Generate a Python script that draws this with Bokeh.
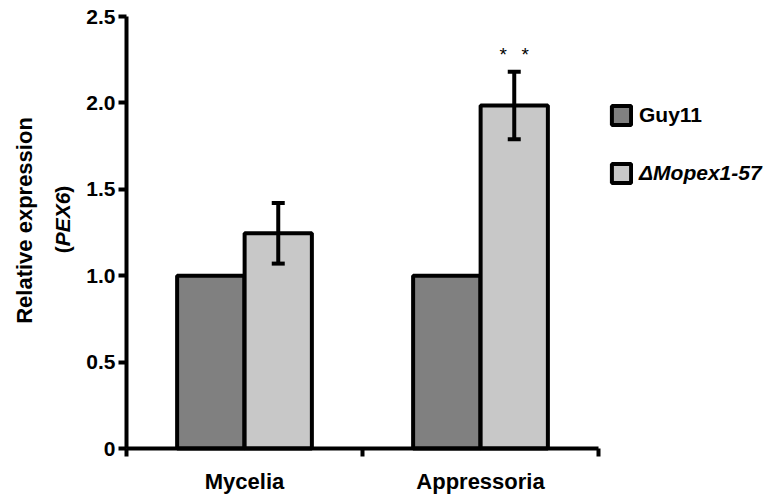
import math
from bokeh.plotting import figure
from bokeh.models import (Range1d, FixedTicker, Label, Legend, LegendItem,
                          Whisker, TeeHead, ColumnDataSource, LinearAxis)
from bokeh.embed import file_html
from bokeh.resources import INLINE

# ---- data ----
categories = ["Mycelia", "Appressoria"]
series_names = ["Guy11", "\u0394Mopex1-57"]
guy11_values = [1.0, 1.0]
mopex_values = [1.245, 1.985]
mopex_errors = [0.175, 0.195]
significance = ["", "**"]
y_ticks = [0, 0.5, 1.0, 1.5, 2.0, 2.5]
y_tick_labels = ["0", "0.5", "1.0", "1.5", "2.0", "2.5"]

FONT = "Liberation Sans"
W, H = 773, 497
X0_PX, Y0_PX = 126, 448          # pixel position of data origin
PX_X, PX_Y = 236.0, 172.8         # pixels per data unit

x_rng = Range1d(-X0_PX / PX_X, (W - X0_PX) / PX_X)
y_rng = Range1d(-(H - Y0_PX) / PX_Y, Y0_PX / PX_Y)

p = figure(width=W, height=H, output_backend="svg", toolbar_location=None,
           x_range=x_rng, y_range=y_rng, x_axis_type=None, y_axis_type=None,
           min_border=0, min_border_left=0, min_border_right=0,
           min_border_top=0, min_border_bottom=0)
p.outline_line_color = None
p.background_fill_color = "white"

def xd(px):
    return (px - X0_PX) / PX_X

def yd(py):
    return (Y0_PX - py) / PX_Y

n = len(categories)
bar_w = 0.285
off = 0.143
x_guy = [i + 0.5 - off for i in range(n)]
x_mop = [i + 0.5 + off for i in range(n)]

src_g = ColumnDataSource(dict(x=x_guy, top=guy11_values))
src_m = ColumnDataSource(dict(x=x_mop, top=mopex_values,
                              upper=[v + e for v, e in zip(mopex_values, mopex_errors)],
                              lower=[v - e for v, e in zip(mopex_values, mopex_errors)]))

r_g = p.vbar(x="x", top="top", bottom=0, width=bar_w, source=src_g,
             fill_color="#808080", line_color="black", line_width=4)
r_m = p.vbar(x="x", top="top", bottom=0, width=bar_w, source=src_m,
             fill_color="#c8c8c8", line_color="black", line_width=4)

wh = Whisker(base="x", upper="upper", lower="lower", source=src_m,
             line_width=4, line_color="black", level="overlay",
             upper_head=TeeHead(size=13, line_width=4, line_color="black"),
             lower_head=TeeHead(size=13, line_width=4, line_color="black"))
p.add_layout(wh)

# significance marks
for i, s in enumerate(significance):
    k = len(s)
    for j, ch in enumerate(s):
        dx = (j - (k - 1) / 2) * 22 / PX_X
        p.add_layout(Label(x=x_mop[i] + dx, y=mopex_values[i] + mopex_errors[i] + 0.10,
                           text=ch, text_align="center", text_baseline="middle",
                           text_font=FONT, text_font_size="19px", text_color="black"))

# y axis
ya = LinearAxis(fixed_location=0, bounds=(0, 2.5))
ya.ticker = FixedTicker(ticks=y_ticks, minor_ticks=[])
ya.major_label_overrides = {t: l for t, l in zip(y_ticks, y_tick_labels)}
ya.axis_line_width = 4
ya.major_tick_line_width = 4
ya.major_tick_out = 8
ya.major_tick_in = 0
ya.minor_tick_line_color = None
ya.major_label_standoff = 3
ya.major_label_text_font = FONT
ya.major_label_text_font_style = "bold"
ya.major_label_text_font_size = "21px"
ya.major_label_text_color = "black"
p.add_layout(ya, "left")

# x axis
xa = LinearAxis(fixed_location=0, bounds=(0, n))
xa.ticker = FixedTicker(ticks=list(range(n + 1)), minor_ticks=[])
xa.major_label_overrides = {i: "" for i in range(n + 1)}
xa.axis_line_width = 4
xa.major_tick_line_width = 4
xa.major_tick_out = 8
xa.major_tick_in = 0
xa.minor_tick_line_color = None
p.add_layout(xa, "below")

for i, c in enumerate(categories):
    p.add_layout(Label(x=i + 0.5, y=yd(480.5), text=c, text_align="center",
                       text_baseline="alphabetic", text_font=FONT, text_font_style="bold",
                       text_font_size="22px", text_color="black"))

# y axis title
p.add_layout(Label(x=xd(24), y=yd(220), text="Relative expression",
                   angle=math.pi / 2, text_align="center", text_baseline="alphabetic",
                   text_font=FONT, text_font_style="bold", text_font_size="22px",
                   text_color="black"))
fs = 21
w_par = 0.333 * fs
w_pex = 2.557 * fs
start = 219 + (2 * w_par + w_pex) / 2
bx = xd(62)
for txt, pos, style in [("(", start, "bold"), ("PEX6", start - w_par, "bold italic"),
                        (")", start - w_par - w_pex, "bold")]:
    p.add_layout(Label(x=bx, y=yd(pos), text=txt, angle=math.pi / 2,
                       text_align="left", text_baseline="alphabetic", text_font=FONT,
                       text_font_style=style, text_font_size="21px", text_color="black"))

# legends
def make_legend(label, rend, loc, style):
    lg = Legend(items=[LegendItem(label=label, renderers=[rend])], location=loc,
                glyph_width=24, glyph_height=24, label_height=24, label_standoff=6,
                padding=0, margin=0, border_line_alpha=0, background_fill_alpha=0,
                label_text_font=FONT, label_text_font_style=style,
                label_text_font_size="21px", label_text_color="black")
    p.add_layout(lg)

make_legend(series_names[0], r_g, (609, H - 127), "bold")
make_legend(series_names[1], r_m, (609, H - 185), "bold italic")

open("out.html", "w").write(file_html(p, INLINE))
